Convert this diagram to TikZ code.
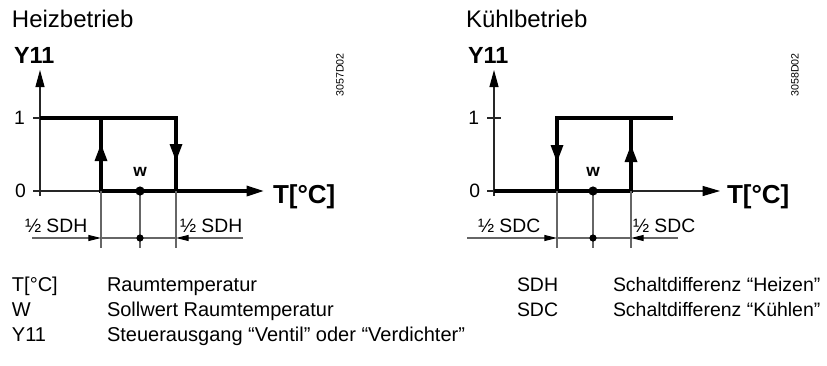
\documentclass[tikz,border=0pt]{standalone}
\usepackage{fontspec}
\setmainfont{Liberation Sans}
\usetikzlibrary{arrows.meta}
\begin{document}
\begin{tikzpicture}[x=0.75pt,y=-0.75pt,
  every node/.style={inner sep=0pt, outer sep=0pt},
  axisline/.style={line width=0.8pt, black!85},
  curve/.style={line width=2.4pt, line join=miter},
  guide/.style={line width=0.8pt, black!60},
  axtip/.style={-{Triangle[length=12.75pt,width=6.75pt,color=black]}},
  xtip/.style={-{Triangle[length=13pt,width=7.5pt,color=black]}},
  dimtip/.style={-{Triangle[length=9.5pt,width=4.5pt,color=black]}},
  titletext/.style={anchor=base west, font=\fontsize{18}{20}\selectfont},
  ytext/.style={anchor=base west, font=\fontsize{17.5}{20}\selectfont\bfseries},
  ttext/.style={anchor=base west, font=\fontsize{19.5}{22}\selectfont\bfseries},
  wtext/.style={anchor=base, font=\fontsize{13}{15}\selectfont\bfseries},
  ticktext/.style={anchor=east, font=\fontsize{14.5}{16}\selectfont},
  dimtext/.style={anchor=base west, font=\fontsize{14.5}{16}\selectfont},
  legtext/.style={anchor=base west, font=\fontsize{15}{17}\selectfont},
  legtextr/.style={anchor=base west, font=\fontsize{14.6}{17}\selectfont},
  idtext/.style={rotate=90, font=\fontsize{8}{9}\selectfont}
]
\useasboundingbox (0,0) rectangle (827,365);

% ================= Heizbetrieb =================
\node[titletext] (tH) at (12,27) {Heizbetrieb};
\node[ytext] (yH) at (14,63) {Y11};
\coordinate (HyB) at (40,196);
\coordinate (HyT) at (40,70);
\draw[axisline,axtip] (HyB) -- (HyT);
\coordinate (H1a) at (33,118);
\coordinate (H1b) at (40,118);
\draw[axisline] (H1a) -- (H1b);
\coordinate (H0a) at (33,191);
\coordinate (HL0) at (101,191);
\coordinate (HL1) at (101,118);
\coordinate (HR0) at (176,191);
\coordinate (HR1) at (176,118);
\coordinate (HxE) at (264,191);
\draw[axisline] (H0a) -- (HL0);
\draw[curve] (H1b) -- (HR1) -- (HR0);
\draw[curve,xtip] (HL1) -- (HL0) -- (HxE);
\fill (101,144) -- (94.5,161) -- (107.5,161) -- cycle;
\fill (176,161) -- (169.5,144) -- (182.5,144) -- cycle;
\node[ticktext] (H1) at (25,118) {1};
\node[ticktext] (H0) at (26,191) {0};
\node[ttext] (HT) at (273,203) {T[°C]};
\node[idtext] (Hid) at (340,75) {3057D02};
% w
\coordinate (Hw) at (140,191);
\coordinate (HwB) at (140,248);
\coordinate (Hd) at (140,238);
\draw[guide] (HL0) -- (101,248);
\draw[guide] (HR0) -- (176,248);
\draw[guide] (Hw) -- (HwB);
\fill (Hw) circle[radius=4.6];
\node[wtext] (Hwl) at (140,176) {w};
\coordinate (HdL) at (32,238);
\coordinate (HdR) at (243,238);
\draw[guide,dimtip] (HdL) -- (101,238);
\draw[guide,dimtip] (HdR) -- (176,238);
\draw[guide] (101,238) -- (176,238);
\fill (Hd) circle[radius=3.6];
\node[dimtext] (HsL) at (25,232) {½ SDH};
\node[dimtext] (HsR) at (180,232) {½ SDH};

% ================= Kühlbetrieb =================
\node[titletext] (tK) at (466,27) {Kühlbetrieb};
\node[ytext] (yK) at (468,63) {Y11};
\coordinate (KyB) at (494,196);
\coordinate (KyT) at (494,70);
\draw[axisline,axtip] (KyB) -- (KyT);
\coordinate (K1a) at (487,118);
\coordinate (K1b) at (501,118);
\draw[axisline] (K1a) -- (K1b);
\coordinate (K0a) at (487,191);
\coordinate (K0b) at (494,191);
\coordinate (KL0) at (557,191);
\coordinate (KL1) at (557,118);
\coordinate (KR0) at (631,191);
\coordinate (KR1) at (631,118);
\coordinate (KtE) at (673,118);
\coordinate (KxE) at (720,191);
\draw[axisline] (K0a) -- (K0b);
\draw[axisline,xtip] (KR0) -- (KxE);
\draw[curve] (KtE) -- (KL1) -- (KL0) -- (K0b);
\draw[curve] (KL0) -- (KR0) -- (KR1);
\fill (557,162) -- (550.5,145) -- (563.5,145) -- cycle;
\fill (631,145) -- (624.5,162) -- (637.5,162) -- cycle;
\node[ticktext] (K1) at (479,118) {1};
\node[ticktext] (K0) at (480,191) {0};
\node[ttext] (KT) at (727,203) {T[°C]};
\node[idtext] (Kid) at (795,75) {3058D02};
\coordinate (Kw) at (593,191);
\coordinate (KwB) at (593,248);
\coordinate (Kd) at (593,238);
\draw[guide] (KL0) -- (557,248);
\draw[guide] (KR0) -- (631,248);
\draw[guide] (Kw) -- (KwB);
\fill (Kw) circle[radius=4.6];
\node[wtext] (Kwl) at (593,176) {w};
\coordinate (KdL) at (467,238);
\coordinate (KdR) at (678,238);
\draw[guide,dimtip] (KdL) -- (557,238);
\draw[guide,dimtip] (KdR) -- (631,238);
\draw[guide] (557,238) -- (631,238);
\fill (Kd) circle[radius=3.6];
\node[dimtext] (KsL) at (478,232) {½ SDC};
\node[dimtext] (KsR) at (633,232) {½ SDC};

% ================= Legend =================
\node[legtext] (l1a) at (12,291) {T[°C]};
\node[legtext] (l1b) at (107,291) {Raumtemperatur};
\node[legtext] (l2a) at (12,316) {W};
\node[legtext] (l2b) at (107,316) {Sollwert Raumtemperatur};
\node[legtext] (l3a) at (12,341) {Y11};
\node[legtext] (l3b) at (107,341) {Steuerausgang “Ventil” oder “Verdichter”};
\node[legtextr] (l4a) at (517,291) {SDH};
\node[legtextr] (l4b) at (613,291) {Schaltdifferenz “Heizen”};
\node[legtextr] (l5a) at (517,316) {SDC};
\node[legtextr] (l5b) at (613,316) {Schaltdifferenz “Kühlen”};
\end{tikzpicture}
\end{document}
